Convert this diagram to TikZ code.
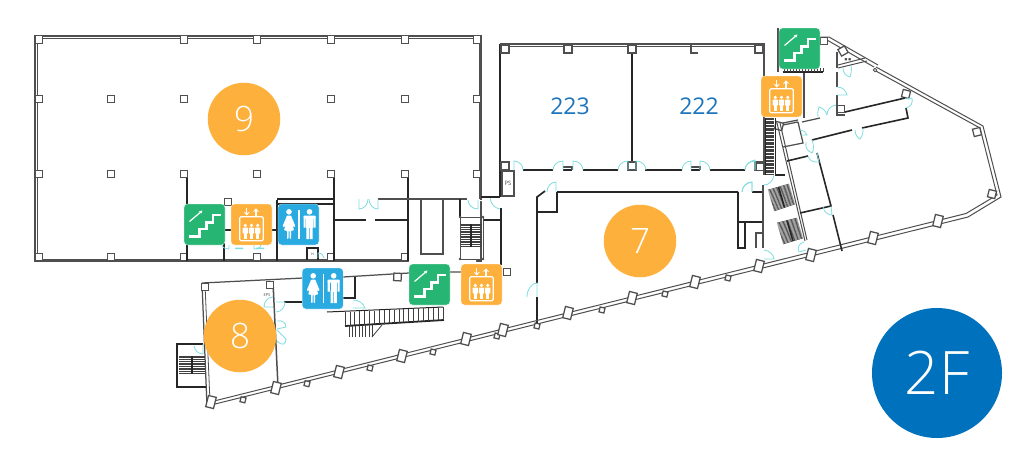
\documentclass[tikz,border=0pt]{standalone}
\usepackage{fontspec}
\setmainfont{Open Sans Light}
\newfontfamily\regfont{Open Sans}
\newfontfamily\symfont{DejaVu Sans}
\usetikzlibrary{calc,arrows.meta}
\definecolor{wallgray}{HTML}{4F4F4F}
\definecolor{doorcy}{HTML}{7FDDE0}
\definecolor{badgeor}{HTML}{FDB03B}
\definecolor{icongr}{HTML}{27B573}
\definecolor{iconbl}{HTML}{29ABE2}
\definecolor{floorbl}{HTML}{0071BC}
\definecolor{roomtx}{HTML}{1C75BC}
\tikzset{
  wallg/.style={draw=wallgray,line width=1.25pt},
  wallk/.style={draw=black!85,line width=1.6pt},
  treadln/.style={draw=black!75,line width=.6pt},
  doorln/.style={draw=doorcy,line width=.8pt},
  badge/.style={circle,fill=badgeor,minimum size=72.5pt,inner sep=0pt,text=white,font=\fontsize{35}{35}\selectfont},
  icon/.style={rounded corners=3.5pt,minimum size=41pt,inner sep=0pt,draw=white,line width=.3pt},
  roomlabel/.style={text=roomtx,font=\regfont\fontsize{23}{23}\selectfont},
  tinytext/.style={text=black!70,inner sep=0pt},
  glyph/.style={draw=white,line width=1.2pt,line join=round},
  glyphf/.style={fill=white,draw=none}
}
% column: x y angle size
\newcommand\pil[4]{\draw[wallg,fill=white,rotate around={#3:(#1,#2)}] (#1-#4/2,#2-#4/2) rectangle (#1+#4/2,#2+#4/2);}
% wide pier: x y angle width height
\newcommand\pier[5]{\draw[wallg,fill=white,rotate around={#3:(#1,#2)}] (#1-#4/2,#2-#5/2) rectangle (#1+#4/2,#2+#5/2);}
% door: hinge xy, leaf vector, closing vector
\newcommand\door[6]{\draw[doorln] (#1,#2) -- (#1+#3,#2+#4) .. controls (#1+#3+.55*#5,#2+#4+.55*#6) and (#1+#5+.55*#3,#2+#6+.55*#4) .. (#1+#5,#2+#6);}
\newcommand\stairicon[3]{%
  \node[icon,fill=icongr] (#1) at (#2,#3) {};
  \begin{scope}[shift={(#2,#3)}]
    \draw[glyph,line width=2.4pt,line join=miter] (-16,12)--(-5,12)--(-5,4.5)--(2,4.5)--(2,-2)--(8.5,-2)--(8.5,-9.5)--(16,-9.5);
    \draw[glyph,-{Stealth[length=3.5pt,width=3.5pt]}] (-15,-3)--(-2,-14);
  \end{scope}}
\newcommand\elevicon[3]{%
  \node[icon,fill=badgeor] (#1) at (#2,#3) {};
  \begin{scope}[shift={(#2,#3)}]
    \draw[glyph,rounded corners=1.2pt] (-11.7,-7.7) rectangle (11.7,16.3);
    \draw[glyph,-{Stealth[length=3.5pt,width=6pt]}] (-4.8,-16.2)--(-4.8,-9);
    \draw[glyph,-{Stealth[length=3.5pt,width=6pt]}] (4.5,-9)--(4.5,-16.2);
    \foreach \p in {-6.2,0,6.2}{
      \fill[glyphf] (\p,.9) circle (1.8);
      \fill[glyphf,rounded corners=.6pt] (\p-2.6,3) rectangle (\p+2.6,9);
      \fill[glyphf] (\p-1.6,8) rectangle (\p+1.6,14.3);
    }
  \end{scope}}
\newcommand\wcicon[3]{%
  \node[icon,fill=iconbl] (#1) at (#2,#3) {};
  \begin{scope}[shift={(#2,#3)}]
    \draw[glyph,line width=1.2pt] (.5,-14.5)--(.5,14);
    \fill[glyphf] (-9.5,-12.7) circle (2.8);
    \fill[glyphf,rounded corners=.8pt] (-11.5,-9)--(-7.5,-9)--(-3,2)--(-5,2.6)--(-6.5,-2)--(-4.5,6)--(-7.5,6)--(-7.5,14.5)--(-9,14.5)--(-9,6)--(-10,6)--(-10,14.5)--(-11.5,14.5)--(-11.5,6)--(-14.5,6)--(-12.5,-2)--(-14,2.6)--(-16,2)--cycle;
    \fill[glyphf] (11,-12.7) circle (2.8);
    \fill[glyphf,rounded corners=.8pt] (5,-9) rectangle (17,-6);
    \fill[glyphf] (5,-8) rectangle (7.2,3) (14.8,-8) rectangle (17,3);
    \fill[glyphf] (7.8,-8) rectangle (14.2,3);
    \fill[glyphf] (7.8,2) rectangle (10.6,14.5) (11.4,2) rectangle (14.2,14.5);
  \end{scope}}
\begin{document}
\begin{tikzpicture}[x=1pt,y=-1pt]
\useasboundingbox[fill=white] (0,0) rectangle (1024,461);

%% ---- Block 9 ----
\draw[wallg] (35,36) rectangle (481,261);
\draw[wallg,line width=.8pt] (37,38) -- (479,38) -- (479,199) (37,38) -- (37,259) -- (408,259);
\fill[white] (476,201) rectangle (483,262) (408.8,262) rectangle (483,199.8);
\draw[wallg] (481,36) -- (481,200);
\foreach \x in {39,184,257,331,405,477}{\pil{\x}{39.5}{0}{7.5}}
\foreach \x in {39,477}{\pil{\x}{99}{0}{7.5}\pil{\x}{174}{0}{7.5}}
\foreach \x in {111,184,331,405}{\pil{\x}{99}{0}{7.5}}
\foreach \x in {111,184,257,331,405}{\pil{\x}{174}{0}{7.5}}
\foreach \x in {39,111,184,257,331,405}{\pil{\x}{257}{0}{7.5}}
\pil{228}{202}{0}{7.5}
\draw[wallk] (187,177.8)--(187,261) (224,243)--(224,261) (277,200)--(277,261)
  (334,177.8)--(334,261) (408,177.8)--(408,261) (277,199)--(334,199) (277,204)--(334,204)
  (334,220)--(366,220) (375,220)--(408,220) (225,230)--(232,230) (272,230)--(277,230);
\draw[wallg] (378,199)--(467,199);
\draw[wallk] (421,199)--(443,199);
\draw[wallg] (421,199) rectangle (443,254);
\draw[wallk] (307,260)--(307,248)--(318,248)--(318,260);
\node[tinytext,font=\regfont\fontsize{3}{3}\selectfont] (pssmall) at (312.5,254) {PS};
\door{318}{258}{0}{-5}{6}{0}
\door{359}{199}{0}{10}{9}{0}
\door{378}{199}{0}{10}{-9}{0}
\door{229}{245}{0}{4}{-7}{0}
\door{254}{245}{0}{4}{7}{0}
\fill[doorcy] (235,247.5) rectangle (243,249) (256,247.5) rectangle (264,249);

%% ---- Stair between block 9 and 7 ----
\draw[wallk] (460,199)--(460,217) (483,220)--(501,220) (501,208)--(501,265) (481,197)--(500,197) (500,44)--(500,197);
\draw[wallg,line width=.8pt] (460,217)--(483,217)--(483,259)--(460,259)--cycle;
\foreach \p in {(460,217),(483,217),(460,259),(483,259)}{\fill[wallgray] \p circle (1.4);}
\foreach \y in {224,225.7,...,247.5}{\draw[treadln] (461,\y)--(482,\y);}
\draw[wallk] (471,224)--(471,247);
\door{478}{200}{0}{9}{-10}{0}
\draw[doorln] (490,198) .. controls (491,205) and (495,208) .. (500,209);

%% ---- Rooms 222, 223 ----
\draw[wallg] (500,44)--(764,44)--(764,175);
\draw[wallg,line width=.8pt] (502,46)--(762,46);
\draw[wallk] (632,44)--(632,163)
  (523,170)--(553,170) (563,170)--(572,170) (583,170)--(618,170)
  (645,170)--(682,170) (691,170)--(700,170) (710,170)--(745,170);
\draw[wallg] (502,171) rectangle (514,196);
\draw[wallk] (500,44)--(500,197);
\node[tinytext,font=\regfont\fontsize{6}{6}\selectfont] (ps) at (508,183.5) {PS};
\foreach \x in {505,568,632,759}{\pil{\x}{49}{0}{8}}
\draw[wallg] (691,45)--(691,53)--(698,53);
\foreach \x in {505,632,759}{\pil{\x}{166}{0}{8}}
\draw[wallg] (563,167)--(572,167)--(572,170) (691,167)--(700,167)--(700,170);
\door{514}{170}{0}{-9}{9}{0}
\door{563}{170}{0}{-9}{-10}{0}
\door{573}{170}{0}{-9}{10}{0}
\door{628}{170}{0}{-9}{-10}{0}
\door{636}{170}{0}{-9}{10}{0}
\door{691}{170}{0}{-9}{-9}{0}
\door{700}{170}{0}{-9}{10}{0}
\door{755}{170}{0}{-9}{-10}{0}

%% ---- Room 7 ----
\draw[wallk,line width=1.7pt] (557,192)--(738,192) (752,192)--(763,192)
  (557,192)--(557,212)--(537,212)
  (537,283)--(537,197)--(545,191)
  (537,297)--(537,323)
  (738,192)--(738,248)--(745,248)--(745,222)
  (738,222)--(763,222);
\draw[wallg,line width=1.8pt] (763,185)--(763,248);
\draw[wallg] (756,248)--(756,233)--(763,233);
\door{556}{192}{0}{-10}{-9}{0}
\door{752}{192}{0}{-10}{-10}{0}
\door{537}{297}{0}{-14}{-10}{0}
\draw[doorln] (764,250) .. controls (770,251) and (773,254) .. (774,259) -- (764,259);
\draw[doorln] (764,185) .. controls (769,185) and (773,181) .. (774,175);

%% ---- Lower wing outline ----
\draw[wallg] (202,283)--(303,278) (343,277)--(409,273) (450,272)--(461,272) (202,283)--(207,406);
\draw[wallg,line width=.8pt] (205,284)--(210,402);
\draw[wallg,line width=1.5pt] (273,282)--(278,387);
\pil{205}{287}{0}{7.5}
\pil{270}{285}{0}{7.5}
\pil{397.5}{277}{-3}{7.5}
\pil{507}{272}{0}{7.5}
\node[tinytext,font=\regfont\fontsize{4}{4}\selectfont] (eps) at (267,295) {EPS};
\draw[wallk] (284,302)--(303,302) (343,298)--(355,298)--(355,277);
\door{273}{307}{-9}{0}{0}{-10}
\door{276}{302}{9}{0}{0}{10}
\door{277}{329}{9}{-2}{0}{-8}
\door{277}{330}{9}{9}{0}{11}
\draw[doorln] (353,300) .. controls (359,300) and (363,303) .. (365,308) -- (353,308);

%% ---- big stair ----
\draw[wallk,line width=1pt] (327,312)--(443,307);
\draw[wallk,line width=1.8pt] (345,326)--(444,320);
\foreach \t in {0,.05,...,1.001}{
  \draw[treadln,line width=.7pt] ($(345,312)!\t!(443,307)$) -- ($(345,326)!\t!(443,320)$);}
\foreach \t in {0,.14,...,1}{
  \draw[treadln,line width=.7pt] ($(349,326)!\t!(373,325)$) -- ($(349,337)!\t!(373,337)$);}
\draw[treadln,line width=.8pt] (372,337)--(382,325);

%% ---- Left stair of room 8 ----
\draw[wallk] (203,344)--(177,344)--(177,387)--(206,387);
\foreach \y in {356,357.7,...,374}{\draw[treadln] (179,\y)--(205,\y);}
\draw[wallk] (192,356)--(192,374);
\draw[doorln] (194,346) .. controls (195,351) and (198,353.5) .. (203,354) -- (203,344);

%% ---- South facade ----
\draw[wallg,line width=1pt] (207,406)--(968,217)--(1001,197)--(983,126)--(876,67);
\draw[wallg,line width=1pt] (208,402.5)--(966,213.5)--(997,195)--(980,128)--(874,70);
\draw[wallg,line width=1pt] (829,37)--(878,65) (827,40)--(874,67) (820,37)--(829,37);
\draw[wallg,line width=.8pt,fill=white] (875,70) circle (1.8);
\foreach \x/\y in {243/399.8,307/383.7,370/368,433/352,497/336,537/326,602/310,665/294,728/278}{
  \pil{\x}{\y}{-14}{5}}
\foreach \x/\y in {211/402,276/388,339/372,402/356,466/339,503/330,568/313,632/298,695/282,759/266,811/255,873/238,938/221}{
  \pier{\x}{\y}{-14}{8}{11.5}}
\foreach \x/\y/\a in {992/194/-14,977/132/14,906/94/-14,843/51/30,824/41/0,841/109/0,779/126/-14,760/167/0}{
  \pil{\x}{\y}{\a}{7.5}}

%% ---- North east block ----
\draw[wallg,line width=1.8pt] (764,45)--(764,175) (837,52)--(837,68) (837,72)--(837,87) (837,95)--(837,115)--(845,115);
\draw[wallg] (778,28)--(778,72) (804,72)--(804,118);
\draw[wallk,line width=1.2pt] (783,72)--(823,72);
\foreach \x in {784,787,...,823}{\draw[treadln] (\x,68)--(\x,72);}
\foreach \y in {118,119.4,...,174}{\draw[treadln] (766,\y)--(774,\y);}
\draw[wallk,line width=.9pt] (765,118)--(765,175) (775,118)--(775,175);
% double diagonal wall
\draw[wallg,line width=1pt] (777,123)--(805,241) (780,123)--(807,240);
\draw[wallk] (775,175)--(785,175);
\draw[wallg] (783,125)--(798,122) (798,122)--(803,143)--(783,147) (802,122)--(820,118) (783,123)--(798,120);
\draw[wallg,line width=1pt] (838,68)--(867,61) (838,65)--(865,58);
\draw[wallk] (812,140)--(852,130) (862,128)--(908,118)--(906,108)
  (845,112)--(905,98) (787,161)--(808,156) (817,153)--(831,206)--(800,213) (833,215)--(842,251);
\node[tinytext,font=\symfont\fontsize{3}{3}\selectfont] (wc) at (848,60) {■ ■};
\draw[doorln] (837,87) .. controls (843,87) and (846,91) .. (847,95) -- (837,95);
\draw[doorln] (843,68) .. controls (843,73) and (846,76) .. (850,77) .. controls (851,73) and (852,70) .. (851,66);
\draw[doorln] (818,117) .. controls (817,112) and (819,108) .. (819,107) .. controls (823,108) and (826,111) .. (827,115);
\draw[doorln] (827,115) .. controls (827,110) and (830,106) .. (836,105);
\draw[doorln] (906,108) .. controls (911,107) and (913,103) .. (912,98) -- (905,99);
\draw[doorln] (855,130) .. controls (855,135) and (858,138) .. (860,139) .. controls (863,136) and (863,131) .. (863,128);
\draw[doorln] (806,142) .. controls (805,147) and (807,151) .. (812,153) .. controls (814,150) and (814,145) .. (812,140);
\draw[doorln] (808,156) .. controls (809,160) and (813,163) .. (819,162) -- (817,153);
\draw[doorln] (800,130) .. controls (803,130) and (806,132) .. (807,135) -- (801,135);
\draw[doorln] (823,207) .. controls (824,212) and (828,215) .. (832,215) -- (831,206);
\draw[doorln] (804,242) .. controls (799,243) and (797,248) .. (799,252) -- (806,250);
\draw[doorln] (745,170) .. controls (745,165) and (749,161) .. (755,160) -- (755,170);
\draw[doorln] (742,192) .. controls (742,187) and (746,183) .. (752,182) -- (752,192);
% parallel stairs
\foreach \t in {0,.05,...,1.001}{
  \draw[treadln] ($(768,190)!\t!(774,211)$) -- ($(789,184)!\t!(795,204)$);
  \draw[treadln] ($(777,223)!\t!(783,244)$) -- ($(797,218)!\t!(803,238)$);}
\draw[wallk] (778.5,187)--(784.5,207.5) (787,220.5)--(793,241);

%% ---- Badges and labels ----
\node[badge] (b9) at (244,119) {9};
\node[badge] (b8) at (240,336) {8};
\node[badge] (b7) at (640,241) {7};
\node[roomlabel] (r223) at (570,106) {223};
\node[roomlabel] (r222) at (699,106) {222};
\node[circle,fill=floorbl,minimum size=130pt,inner sep=0pt,text=white,font=\fontsize{60}{60}\selectfont] (floor) at (937,373) {2F};

%% ---- Icons ----
\stairicon{s1}{204.5}{224.5}
\elevicon{e1}{251.5}{224.5}
\wcicon{w1}{298.5}{224.5}
\wcicon{w2}{322.7}{288.5}
\stairicon{s2}{429.5}{284.5}
\elevicon{e2}{481.5}{284.5}
\stairicon{s3}{799.5}{48.5}
\elevicon{e3}{781.5}{96.5}
\end{tikzpicture}
\end{document}
